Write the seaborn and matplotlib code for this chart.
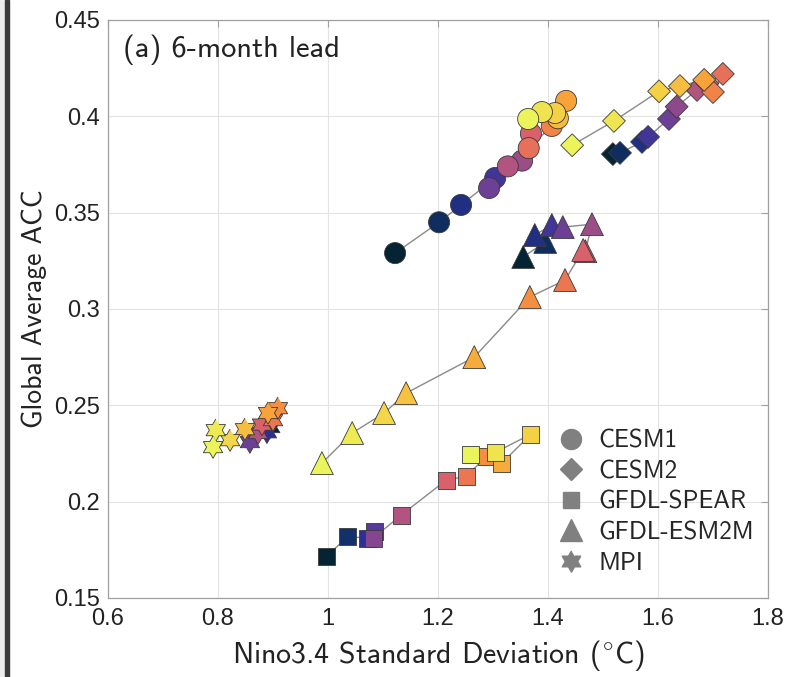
import numpy as np
import pandas as pd
import seaborn as sns
import matplotlib.pyplot as plt
from matplotlib.colors import LinearSegmentedColormap
from matplotlib.lines import Line2D
from matplotlib.path import Path
from matplotlib.patches import Rectangle

# Data (x: Nino3.4 std, y: global ACC, c: colour level)
cesm1_x = [1.122, 1.202, 1.242, 1.304, 1.293, 1.353, 1.327, 1.369, 1.365, 1.407, 1.433, 1.418, 1.413, 1.389, 1.364]
cesm1_y = [0.329, 0.345, 0.354, 0.368, 0.3628, 0.377, 0.374, 0.391, 0.3835, 0.395, 0.408, 0.399, 0.4017, 0.4022, 0.3986]
cesm1_c = [0.0, 0.08, 0.16, 0.25, 0.35, 0.45, 0.5, 0.6, 0.66, 0.72, 0.8, 0.85, 0.9, 0.95, 1.0]

cesm2_x = [1.518, 1.531, 1.571, 1.582, 1.62, 1.634, 1.671, 1.69, 1.718, 1.70, 1.684, 1.640, 1.602, 1.52, 1.444]
cesm2_y = [0.3804, 0.381, 0.3867, 0.3893, 0.3986, 0.405, 0.4137, 0.417, 0.422, 0.4126, 0.4189, 0.4157, 0.413, 0.3976, 0.385]
cesm2_c = [0.0, 0.08, 0.16, 0.25, 0.35, 0.42, 0.5, 0.58, 0.66, 0.72, 0.8, 0.86, 0.9, 0.96, 1.0]

spear_x = [0.998, 1.036, 1.071, 1.085, 1.082, 1.133, 1.215, 1.251, 1.289, 1.316, 1.369, 1.305, 1.260]
spear_y = [0.1717, 0.182, 0.181, 0.1847, 0.181, 0.193, 0.2112, 0.2132, 0.2236, 0.220, 0.235, 0.2257, 0.2247]
spear_c = [0.0, 0.1, 0.2, 0.3, 0.4, 0.5, 0.6, 0.68, 0.75, 0.82, 0.9, 0.95, 1.0]

esm2m_x = [1.355, 1.395, 1.376, 1.407, 1.427, 1.48, 1.468, 1.464, 1.431, 1.367, 1.266, 1.142, 1.102, 1.044, 0.989]
esm2m_y = [0.327, 0.3348, 0.3384, 0.3436, 0.3425, 0.344, 0.330, 0.3306, 0.315, 0.3062, 0.275, 0.2563, 0.246, 0.2356, 0.220]
esm2m_c = [0.0, 0.08, 0.16, 0.25, 0.35, 0.45, 0.55, 0.6, 0.68, 0.75, 0.82, 0.87, 0.92, 0.97, 1.0]

mpi_x = [0.895, 0.889, 0.858, 0.873, 0.88, 0.90, 0.909, 0.891, 0.849, 0.822, 0.796, 0.791]
mpi_y = [0.2387, 0.236, 0.2309, 0.2356, 0.240, 0.2423, 0.2485, 0.246, 0.2376, 0.2319, 0.2371, 0.2283]
mpi_c = [0.0, 0.2, 0.35, 0.5, 0.6, 0.68, 0.75, 0.8, 0.86, 0.92, 0.97, 1.0]

models = ["CESM1", "CESM2", "GFDL-SPEAR", "GFDL-ESM2M", "MPI"]

# six-pointed star (hexagram) marker
ang = np.pi / 2 + np.arange(12) * np.pi / 6
rad = np.where(np.arange(12) % 2 == 0, 1.0, 0.577)
hexagram = Path(np.column_stack([rad * np.cos(ang), rad * np.sin(ang)]))

markers = {"CESM1": "o", "CESM2": "D", "GFDL-SPEAR": "s", "GFDL-ESM2M": "^", "MPI": hexagram}
sizes = {"CESM1": 230, "CESM2": 135, "GFDL-SPEAR": 150, "GFDL-ESM2M": 270, "MPI": 260}

df = pd.concat([
    pd.DataFrame({"x": cesm1_x, "y": cesm1_y, "c": cesm1_c, "model": "CESM1"}),
    pd.DataFrame({"x": cesm2_x, "y": cesm2_y, "c": cesm2_c, "model": "CESM2"}),
    pd.DataFrame({"x": spear_x, "y": spear_y, "c": spear_c, "model": "GFDL-SPEAR"}),
    pd.DataFrame({"x": esm2m_x, "y": esm2m_y, "c": esm2m_c, "model": "GFDL-ESM2M"}),
    pd.DataFrame({"x": mpi_x, "y": mpi_y, "c": mpi_c, "model": "MPI"}),
])

# thermal-like colormap
cmap = LinearSegmentedColormap.from_list("thermal", [
    "#042333", "#12306a", "#2c2f94", "#563a9a", "#84468f",
    "#b05480", "#d8616b", "#f07a4c", "#f8a23a", "#f4cf45", "#ebf45a"])

sns.set_style("white")
plt.rcParams["font.family"] = ["Liberation Sans", "DejaVu Sans"]
plt.rcParams["mathtext.fontset"] = "cm"
label_font = ["cmss10", "Lato", "DejaVu Sans"]

fig = plt.figure(figsize=(7.9, 6.77), dpi=100)
ax = fig.add_axes([0.1367, 0.1167, 0.8354, 0.8538])

for m in models:
    d = df[df.model == m].sort_values("c")
    ax.plot(d.x, d.y, color="#8a8a8a", lw=1.0, zorder=1)
    sns.scatterplot(data=d, x="x", y="y", hue="c", palette=cmap, hue_norm=(0, 1),
                    marker=markers[m], s=sizes[m], edgecolor="#3a3a3a", linewidth=0.6,
                    legend=False, ax=ax, zorder=2)

ax.set_xlim(0.6, 1.8)
ax.set_ylim(0.15, 0.45)
ax.set_xticks([0.6, 0.8, 1.0, 1.2, 1.4, 1.6, 1.8])
ax.set_xticklabels(["0.6", "0.8", "1", "1.2", "1.4", "1.6", "1.8"])
ax.set_yticks([0.15, 0.2, 0.25, 0.3, 0.35, 0.4, 0.45])
ax.set_yticklabels(["0.15", "0.2", "0.25", "0.3", "0.35", "0.4", "0.45"])
ax.grid(True, color="#e3e3e3", lw=0.8)
ax.set_axisbelow(True)
ax.tick_params(direction="in", length=5, width=0.8, color="#a0a0a0", top=True, right=True,
               labelsize=17, labelcolor="#222222")
ax.tick_params(axis="x", pad=7)
ax.tick_params(axis="y", pad=6)
for sp in ax.spines.values():
    sp.set_color("#a0a0a0")
    sp.set_linewidth(0.9)

ax.set_xlabel(r"Nino3.4 Standard Deviation ($^{\circ}$C)", fontsize=21.5, family=label_font,
              color="#222222", labelpad=6)
ax.set_ylabel("Global Average ACC", fontsize=20, family=label_font, color="#222222", labelpad=5)
ax.text(0.022, 0.975, "(a) 6-month lead", transform=ax.transAxes, ha="left", va="top",
        fontsize=22, family=label_font, color="#222222")

handles = [Line2D([], [], ls="", marker=markers[m], color="#808080", markeredgecolor="#808080",
                  markersize=np.sqrt(sizes[m]) * 0.95) for m in models]
leg = ax.legend(handles, models, loc="upper left", bbox_to_anchor=(0.639, 0.33), frameon=False,
                handlelength=1.5, handletextpad=0.34, labelspacing=0.3,
                prop={"family": label_font, "size": 18})

# screenshot border on the left edge
fig.patches.append(Rectangle((0, 0), 5 / 790, 1, transform=fig.transFigure, color="#eeeeee", zorder=0))
fig.patches.append(Rectangle((5 / 790, 0), 4 / 790, 1, transform=fig.transFigure, color="#3c3c3c", zorder=0))

fig.savefig("out.png", dpi=100)
